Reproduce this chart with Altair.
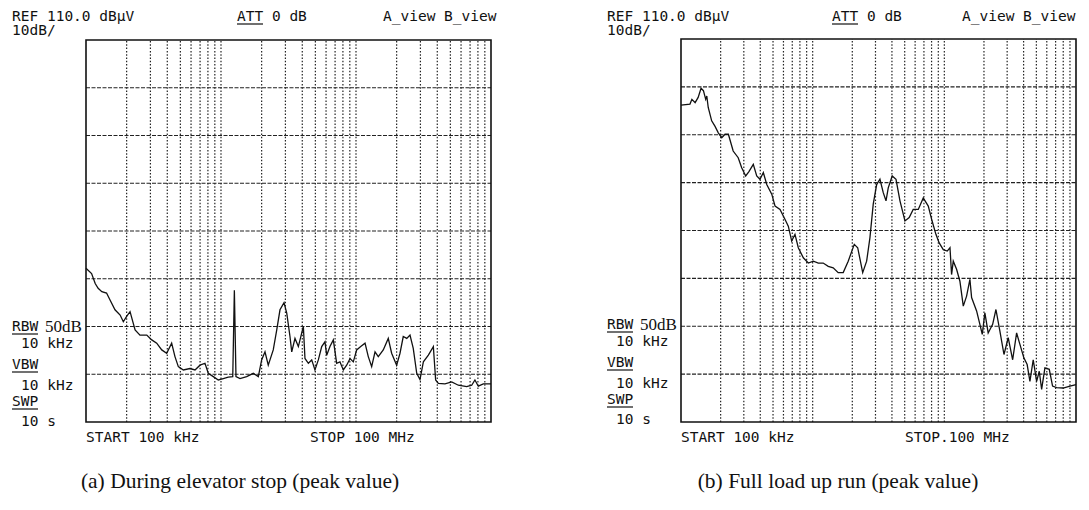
import altair as alt
import pandas as pd

# ---------------- data ----------------
# Panel (a): During elevator stop (peak value)
a_freq_khz = [100, 110, 117, 123, 131, 142, 151, 164, 179, 189,
              200, 212, 231, 251, 282, 307, 334, 364, 396, 431,
              456, 483, 526, 589, 642, 699, 761, 805, 877, 955,
              1040, 1132, 1222, 1256, 1291, 1383, 1549, 1734, 1890, 2000,
              2118, 2239, 2438, 2588, 2735, 2930, 3069, 3243, 3342, 3532,
              3741, 4074, 4188, 4436, 4699, 4966, 5260, 5572, 5888, 6067,
              6412, 6792, 7194, 7603, 8054, 8531, 9036, 9550, 10116, 10839,
              11668, 12331, 13062, 13836, 14622, 15922, 17338, 18365, 20000, 21180,
              22387, 23770, 25119, 26550, 28180, 29785, 31550, 34360, 37410, 38900,
              40740, 45600, 51170, 57280, 66070, 71940, 76030, 80540, 87700, 100000]
a_level_db = [62.2, 61.1, 59.0, 58.0, 57.3, 57.0, 55.5, 53.5, 52.4, 51.0,
              52.1, 53.1, 49.3, 48.2, 48.2, 47.2, 46.5, 45.1, 44.4, 46.5,
              43.7, 41.6, 40.9, 41.2, 40.9, 41.9, 42.3, 40.2, 39.5, 38.8,
              39.1, 39.4, 39.5, 57.6, 39.5, 39.1, 39.5, 40.2, 39.5, 43.0,
              44.7, 41.9, 45.1, 49.3, 53.5, 55.0, 52.8, 47.9, 44.7, 47.5,
              45.8, 50.0, 43.3, 42.3, 43.0, 40.9, 43.0, 45.8, 46.8, 44.0,
              45.8, 47.2, 42.3, 42.6, 40.9, 41.9, 43.3, 42.6, 45.1, 45.8,
              46.5, 43.7, 41.6, 44.7, 43.7, 45.1, 47.5, 44.4, 41.9, 44.4,
              47.9, 47.5, 48.2, 45.4, 40.2, 38.9, 42.6, 44.0, 45.8, 38.8,
              38.1, 38.0, 38.4, 37.7, 37.4, 37.7, 38.8, 37.5, 38.0, 38.0]

# Panel (b): Full load up run (peak value)
b_freq_khz = [100, 117, 121, 128, 135, 142, 148, 154, 157, 161,
              171, 181, 192, 204, 216, 229, 249, 272, 289, 310,
              328, 354, 376, 398, 422, 448, 489, 518, 565, 617,
              653, 693, 734, 778, 849, 927, 1012, 1104, 1202, 1313,
              1432, 1563, 1706, 1862, 2070, 2198, 2399, 2570, 2723, 2884,
              3062, 3243, 3436, 3606, 3750, 4018, 4295, 4603, 5023, 5408,
              5803, 6339, 6918, 7551, 8017, 8630, 9141, 9817, 10520, 11040,
              11350, 11690, 12390, 13130, 13930, 14760, 15640, 16110, 17580, 18620,
              19410, 20320, 21530, 23280, 24660, 26420, 28380, 30550, 33030, 35400,
              37500, 40180, 42560, 44670, 47320, 50230, 52600, 54830, 58070, 62660,
              66370, 71290, 79980, 89950, 100000]
b_level_db = [96.2, 96.4, 97.4, 96.7, 97.8, 99.7, 99.2, 97.4, 98.1, 95.7,
              92.9, 91.8, 90.4, 89.4, 90.1, 90.1, 86.6, 85.2, 83.1, 81.4,
              82.3, 83.8, 81.4, 80.7, 82.1, 79.6, 77.6, 75.1, 74.4, 72.3,
              70.9, 67.8, 69.2, 66.4, 64.3, 63.2, 63.6, 63.2, 63.2, 62.5,
              62.2, 61.2, 61.2, 63.6, 67.1, 66.4, 61.2, 63.6, 68.5, 75.5,
              79.6, 80.7, 77.9, 76.2, 78.9, 81.4, 80.7, 76.2, 72.0, 72.7,
              74.4, 74.4, 76.8, 75.1, 72.3, 69.2, 67.4, 66.0, 65.7, 66.4,
              60.8, 63.6, 61.9, 59.4, 54.2, 56.3, 59.8, 56.0, 53.2, 50.4,
              48.3, 52.8, 48.6, 50.4, 53.5, 49.0, 44.1, 47.6, 43.0, 48.6,
              46.2, 43.4, 42.0, 38.5, 43.0, 38.5, 40.6, 36.8, 41.3, 41.0,
              37.5, 37.2, 37.1, 37.5, 37.8]

# grid: 100 kHz .. 100 MHz (log), 30 .. 110 dBuV (10 dB/div)
freq_domain_khz = [100, 100000]
level_domain_db = [30, 110]
grid_freq_khz = [200, 300, 400, 500, 600, 700, 800, 900,
                 1000, 2000, 3000, 4000, 5000, 6000, 7000, 8000, 9000,
                 10000, 20000, 30000, 40000, 50000, 60000, 70000, 80000, 90000]
grid_level_db = [40, 50, 60, 70, 80, 90, 100]

# texts
hdr_ref = "REF 110.0 dBμV"
hdr_div = "10dB/"
hdr_att = "ATT 0 dB"
hdr_view = "A_view B_view"
txt_start = "START 100 kHz"
txt_stop_a = "STOP 100 MHz"
txt_stop_b = "STOP.100 MHz"
side_labels = ["RBW", "10 kHz", "VBW", "10 kHz", "SWP", "10 s"]
side_indent = [0, 1, 0, 1, 0, 1]
ref_line_label = "50dB"
caption_a = "(a) During elevator stop (peak value)"
caption_b = "(b) Full load up run (peak value)"

MONO = "DejaVu Sans Mono"
SERIF = "Liberation Serif"
INK = "#111111"
MSIZE = 14.5

one = pd.DataFrame({"k": [0]})


def text_layer(s, x, y, font=MONO, size=MSIZE, align="left"):
    return alt.Chart(pd.DataFrame({"t": [s]})).mark_text(
        font=font, fontSize=size, align=align, baseline="middle", color=INK
    ).encode(x=alt.value(x), y=alt.value(y), text="t:N")


def underline(x1, x2, y):
    return alt.Chart(one).mark_rule(color=INK, strokeWidth=1.2).encode(
        x=alt.value(x1), x2=alt.value(x2), y=alt.value(y))


def panel(freqs, levels, xrange, yrange):
    xs = alt.Scale(type="log", domain=freq_domain_khz, range=xrange)
    ys = alt.Scale(domain=level_domain_db, range=yrange)
    vgrid = pd.DataFrame({"f": grid_freq_khz,
                          "lo": level_domain_db[0], "hi": level_domain_db[1]})
    hgrid = pd.DataFrame({"l": grid_level_db,
                          "f0": freq_domain_khz[0], "f1": freq_domain_khz[1]})
    frame = pd.DataFrame({"f0": [freq_domain_khz[0]], "f1": [freq_domain_khz[1]],
                          "l0": [level_domain_db[0]], "l1": [level_domain_db[1]]})
    trace = pd.DataFrame({"f": freqs, "l": levels})

    v = alt.Chart(vgrid).mark_rule(color="#222222", strokeWidth=1.2,
                                   strokeDash=[1.5, 1.8]).encode(
        x=alt.X("f:Q", scale=xs, axis=None),
        y=alt.Y("lo:Q", scale=ys, axis=None), y2="hi:Q")
    h = alt.Chart(hgrid).mark_rule(color="#222222", strokeWidth=1.1,
                                   strokeDash=[4, 1.5]).encode(
        y=alt.Y("l:Q", scale=ys, axis=None),
        x=alt.X("f0:Q", scale=xs, axis=None), x2="f1:Q")
    fr = alt.Chart(frame).mark_rect(fill=None, fillOpacity=0, stroke=INK,
                                    strokeWidth=1.6).encode(
        x=alt.X("f0:Q", scale=xs, axis=None), x2="f1:Q",
        y=alt.Y("l0:Q", scale=ys, axis=None), y2="l1:Q")
    tr = alt.Chart(trace).mark_line(color=INK, strokeWidth=1.3).encode(
        x=alt.X("f:Q", scale=xs, axis=None),
        y=alt.Y("l:Q", scale=ys, axis=None), order="f:Q")
    return [v, h, fr, tr]


def annotations(dx, dy_side, view_dx=0):
    L = []
    L.append(text_layer(hdr_ref, 4 + dx, 9))
    L.append(text_layer(hdr_div, 4 + dx, 23))
    L.append(text_layer(hdr_att, 229 + dx, 9))
    L.append(underline(229 + dx, 255 + dx, 16))
    L.append(text_layer(hdr_view, 375 + dx + view_dx, 9))
    L.append(text_layer(txt_start, 78 + dx, 430))
    L.append(text_layer(txt_stop_a if dx == 0 else txt_stop_b, 302 + dx, 430))
    ys = [319, 336, 357, 378, 394, 414]
    for s, ind, y in zip(side_labels, side_indent, ys):
        L.append(text_layer(s, 4 + dx + 9 * ind, y + dy_side))
    for y in (319, 357, 394):
        L.append(underline(4 + dx, 30 + dx, y + dy_side + 7))
    L.append(text_layer(ref_line_label, 37 + dx, 319 + dy_side, font=SERIF, size=17))
    return L


layers = []
layers += panel(a_freq_khz, a_level_db, [78, 483], [414, 32])
layers += panel(b_freq_khz, b_level_db, [673, 1068], [414, 31])
layers += annotations(0, 0)
layers += annotations(595, -2, view_dx=-16)
layers.append(text_layer(caption_a, 232, 474, font=SERIF, size=21.5, align="center"))
layers.append(text_layer(caption_b, 830, 474, font=SERIF, size=21.5, align="center"))

chart = alt.layer(*layers).resolve_scale(
    x="independent", y="independent"
).properties(
    width=1073, height=494,
    autosize=alt.AutoSizeParams(type="none"),
    padding=0,
    background="white",
).configure_view(stroke=None)

chart.save("out.html", embed_options={"renderer": "svg", "actions": False})
